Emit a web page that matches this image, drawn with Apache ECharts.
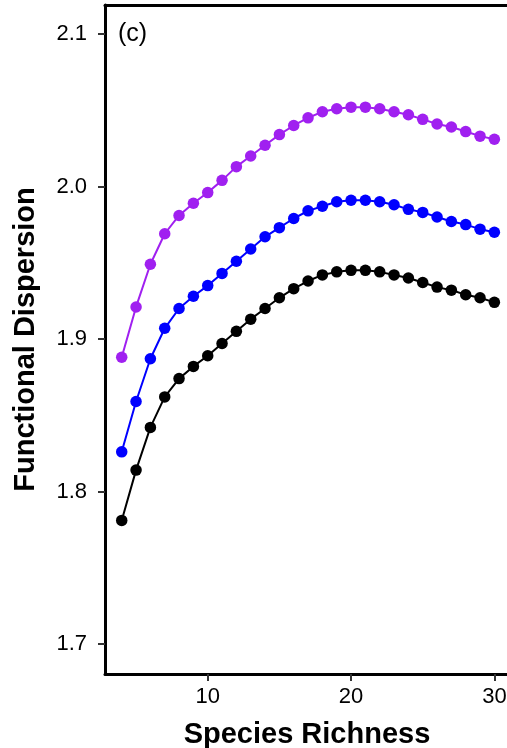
<!DOCTYPE html>
<html>
<head>
<meta charset="utf-8">
<script src="https://cdn.jsdelivr.net/npm/echarts@6/dist/echarts.min.js"></script>
<style>html,body{margin:0;padding:0;background:#fff}#c{width:507px;height:748px}</style>
</head>
<body>
<div id="c"></div>
<script>
const richness = [4,5,6,7,8,9,10,11,12,13,14,15,16,17,18,19,20,21,22,23,24,25,26,27,28,29,30];
const purpleFD = [1.888,1.921,1.949,1.969,1.981,1.989,1.996,2.004,2.013,2.020,2.027,2.034,2.040,2.045,2.049,2.051,2.052,2.052,2.051,2.049,2.047,2.044,2.041,2.039,2.036,2.033,2.031];
const blueFD = [1.826,1.859,1.887,1.907,1.920,1.928,1.935,1.943,1.951,1.959,1.967,1.973,1.979,1.984,1.987,1.990,1.991,1.991,1.990,1.988,1.985,1.983,1.980,1.977,1.975,1.972,1.970];
const blackFD = [1.781,1.814,1.842,1.862,1.874,1.882,1.889,1.897,1.905,1.913,1.920,1.927,1.933,1.938,1.942,1.944,1.945,1.945,1.944,1.942,1.940,1.937,1.934,1.932,1.929,1.927,1.924];
const xTicks = [10,20,30];
const yTicks = [1.7,1.8,1.9,2.0,2.1];

const FONT = 'Liberation Sans, Arial, sans-serif';
function mk(name, vals, color){
  return {
    name, type:'line', data: richness.map((x,i)=>[x, vals[i]]),
    symbol:'circle', symbolSize:11.5, showSymbol:true,
    lineStyle:{color, width:2}, itemStyle:{color},
    animation:false, z:2
  };
}
const chart = echarts.init(document.getElementById('c'), null, {renderer:'canvas'});
chart.setOption({
  backgroundColor:'#fff',
  animation:false,
  grid:{left:105, right:-2, top:5, bottom:74, containLabel:false, outerBoundsMode:'none'},
  xAxis:[{
    type:'value', min:2.833, max:31.02,
    name:'Species Richness', nameLocation:'middle', nameGap:46,
    nameTextStyle:{fontFamily:FONT, fontSize:29, fontWeight:'bold', color:'#000'},
    axisLine:{show:true, onZero:false, lineStyle:{color:'#000', width:3}},
    axisTick:{show:true, inside:false, length:7, customValues:xTicks, lineStyle:{color:'#333', width:2}},
    axisLabel:{customValues:xTicks, fontFamily:FONT, fontSize:22, color:'#000', margin:12,
      formatter:v=>String(v)},
    splitLine:{show:false}
  },{
    type:'value', position:'top', min:2.833, max:31.02,
    axisLine:{show:true, onZero:false, lineStyle:{color:'#000', width:3}},
    axisTick:{show:false}, axisLabel:{show:false}, splitLine:{show:false}
  }],
  yAxis:{
    type:'value', min:1.6803, max:2.119,
    name:'Functional Dispersion', nameLocation:'middle', nameGap:65,
    nameTextStyle:{fontFamily:FONT, fontSize:29, fontWeight:'bold', color:'#000'},
    axisLine:{show:true, onZero:false, lineStyle:{color:'#000', width:3}},
    axisTick:{show:true, inside:false, length:7, customValues:yTicks, lineStyle:{color:'#333', width:2}},
    axisLabel:{customValues:yTicks, fontFamily:FONT, fontSize:22, color:'#000', margin:18,
      formatter:v=>v.toFixed(1)},
    splitLine:{show:false}
  },
  graphic:[{
    type:'text', left:118, top:22,
    style:{text:'(c)', font:'25px Liberation Sans, Arial, sans-serif', fill:'#000'}
  }],
  series:[mk('purple',purpleFD,'#A020F0'), mk('blue',blueFD,'#0000FF'), mk('black',blackFD,'#000000')]
});
</script>
</body>
</html>
